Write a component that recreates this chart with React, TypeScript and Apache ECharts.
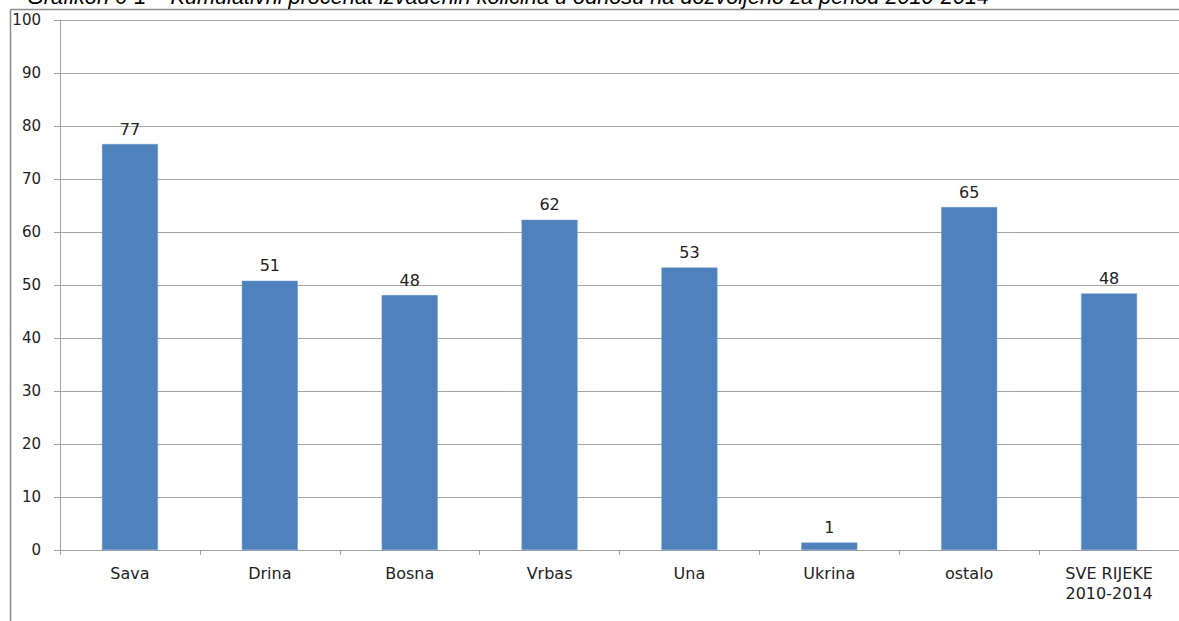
import React, { useEffect, useRef } from "react";
import * as echarts from "echarts";

const categories = ["Sava", "Drina", "Bosna", "Vrbas", "Una", "Ukrina", "ostalo", "SVE RIJEKE\n2010-2014"];
const values = [76.6, 50.8, 48.1, 62.3, 53.3, 1.4, 64.7, 48.4];
const titleText = "Grafikon 6-1 – Kumulativni procenat izvađenih količina u odnosu na dozvoljeno za period 2010-2014";

export default function App() {
  const ref = useRef<HTMLDivElement>(null);
  useEffect(() => {
    if (!ref.current) return;
    const chart = echarts.init(ref.current, null, { renderer: "svg" });
    const font = "DejaVu Sans";
    chart.setOption({
      animation: false,
      backgroundColor: "#ffffff",
      title: {
        text: titleText,
        left: 27,
        top: -15,
        padding: 0,
        textStyle: {
          fontFamily: "Liberation Sans",
          fontStyle: "italic",
          fontWeight: "normal",
          fontSize: 21.7,
          color: "#000",
        },
      },
      graphic: [
        { type: "line", shape: { x1: 10.5, y1: 9.5, x2: 1179, y2: 9.5 }, style: { stroke: "#8a8a8a", lineWidth: 1.5 } },
        { type: "line", shape: { x1: 10.5, y1: 9.5, x2: 10.5, y2: 621 }, style: { stroke: "#8a8a8a", lineWidth: 1.5 } },
      ],
      grid: { left: 60, right: -9, top: 20, bottom: 71, containLabel: false },
      xAxis: {
        type: "category",
        data: categories,
        axisLine: { show: true, lineStyle: { color: "#a0a0a0" } },
        axisTick: { show: true, length: 5, lineStyle: { color: "#a0a0a0" } },
        axisLabel: { interval: 0, fontFamily: font, fontSize: 16, color: "#222", margin: 13, lineHeight: 20 },
      },
      yAxis: {
        type: "value",
        min: 0,
        max: 100,
        interval: 10,
        axisLine: { show: true, lineStyle: { color: "#a0a0a0" } },
        axisTick: { show: true, length: 6, lineStyle: { color: "#a0a0a0" } },
        splitLine: { lineStyle: { color: "#a6a6a6" } },
        axisLabel: { fontFamily: font, fontSize: 15, color: "#222", margin: 19 },
      },
      series: [
        {
          type: "bar",
          data: values,
          barWidth: 56,
          itemStyle: { color: "#4F81BD", borderColor: "#6f9bd0", borderWidth: 0.5 },
          label: {
            show: true,
            position: "top",
            distance: 7,
            fontFamily: font,
            fontSize: 16,
            color: "#222",
            formatter: (p: any) => String(Math.round(p.value)),
          },
        },
      ],
    });
    return () => chart.dispose();
  }, []);
  return <div ref={ref} style={{ position: "absolute", left: 0, top: 0, width: 1179, height: 621 }} />;
}
